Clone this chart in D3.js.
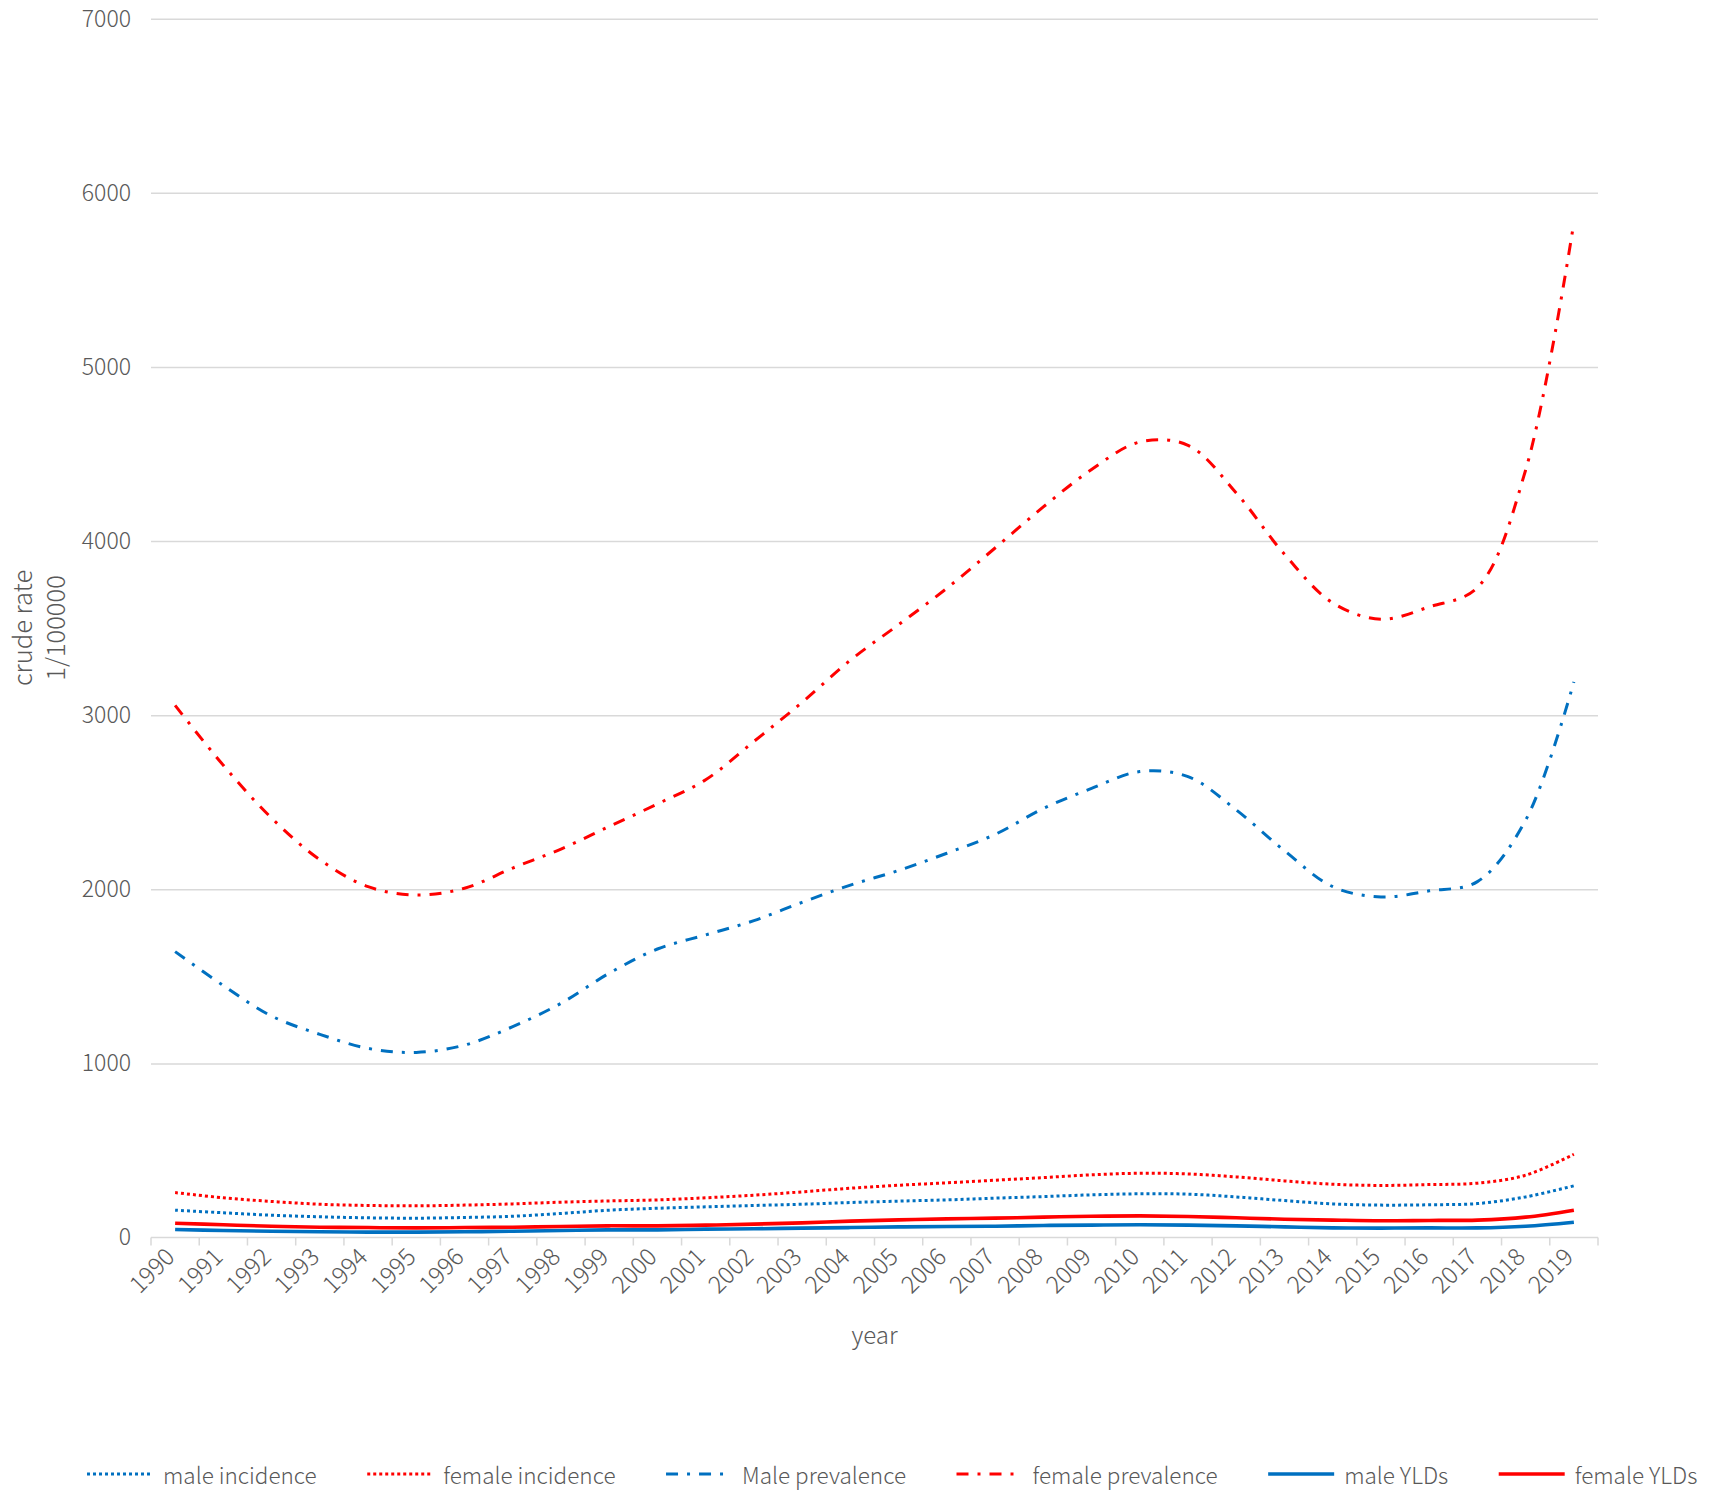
<!DOCTYPE html>
<html>
<head>
<meta charset="utf-8">
<script src="https://cdn.jsdelivr.net/npm/d3@7"></script>
<style>
  html, body { margin: 0; padding: 0; background: #fff; }
  svg text { font-family: "Noto Sans CJK SC", "Noto Sans", sans-serif; font-weight: 300; fill: #595959; }
</style>
</head>
<body>
<svg id="chart" width="1713" height="1493"></svg>
<script>
const years = ["1990","1991","1992","1993","1994","1995","1996","1997","1998","1999",
  "2000","2001","2002","2003","2004","2005","2006","2007","2008","2009",
  "2010","2011","2012","2013","2014","2015","2016","2017","2018","2019"];

const maleIncidence = [157,142,128,119,113,111,115,122,138,157,168,176,184,191,201,209,216,226,235,245,251,249,233,212,193,186,188,195,233,297];
const femaleIncidence = [258,228,207,191,184,182,186,193,203,210,216,228,243,262,283,300,314,329,344,360,369,365,348,325,306,299,304,312,358,478];
const malePrevalence = [1642,1447,1272,1167,1086,1063,1105,1211,1345,1518,1657,1738,1820,1925,2024,2108,2207,2315,2464,2579,2676,2647,2456,2221,2015,1956,1991,2044,2397,3191];
const femalePrevalence = [3056,2712,2409,2170,2015,1967,2006,2122,2231,2361,2490,2629,2849,3074,3316,3520,3729,3960,4196,4411,4569,4550,4276,3924,3645,3551,3622,3733,4408,5830];
const maleYLDs = [46,40,36,33,31,31,33,36,40,44,44,48,50,54,57,61,63,65,69,71,73,71,67,61,55,54,55,55,65,88];
const femaleYLDs = [82,73,65,59,57,55,57,59,63,67,67,71,77,84,94,101,107,111,117,122,124,121,113,105,100,96,98,100,117,157];

const yTicks = [0,1000,2000,3000,4000,5000,6000,7000];
const seriesNames = ["male incidence","female incidence","Male prevalence","female prevalence","male YLDs","female YLDs"];
const yTitle = ["crude rate","1/100000"];
const xTitle = "year";

const BLUE = "#0070C0", RED = "#FF0000";
const styles = [
  {color: BLUE, width: 3, dash: "3 3"},
  {color: RED, width: 3, dash: "3 3"},
  {color: BLUE, width: 3, dash: "12 9 3 9"},
  {color: RED, width: 3, dash: "12 9 3 9"},
  {color: BLUE, width: 3.6, dash: null},
  {color: RED, width: 3.6, dash: null}
];
const seriesValues = [maleIncidence, femaleIncidence, malePrevalence, femalePrevalence, maleYLDs, femaleYLDs];

const svg = d3.select("#chart");
const L = 151, R = 1598, T = 18.7, B = 1237.5;
const FS = 23;

const x = d3.scaleBand().domain(years).range([L, R]).padding(0);
const y = d3.scaleLinear().domain([0, 7000]).range([B, T]);
const grid = "#d9d9d9";

// gridlines + y labels
const yAxis = svg.append("g").attr("transform", `translate(${L},0)`)
  .call(d3.axisLeft(y).tickValues(yTicks).tickSize(-(R - L)).tickPadding(20).tickFormat(d3.format("d")));
yAxis.select(".domain").remove();
yAxis.selectAll(".tick line").attr("stroke", grid).attr("stroke-width", 1.5)
  .filter(d => d === 0).remove();
yAxis.selectAll(".tick text").attr("font-size", FS).attr("fill", "#595959");

// x axis line + ticks at category boundaries
const xAxisG = svg.append("g");
xAxisG.append("line").attr("x1", L).attr("x2", R).attr("y1", B).attr("y2", B)
  .attr("stroke", grid).attr("stroke-width", 1.5);
const bounds = years.map(d => x(d)).concat([x(years[years.length - 1]) + x.bandwidth()]);
xAxisG.selectAll("line.tk").data(bounds).join("line").attr("class", "tk")
  .attr("x1", d => d).attr("x2", d => d).attr("y1", B).attr("y2", B + 8)
  .attr("stroke", grid).attr("stroke-width", 1.5);

// x labels rotated
xAxisG.selectAll("text.xl").data(years).join("text").attr("class", "xl")
  .attr("transform", d => `translate(${x(d) + x.bandwidth() / 2 - 5},${B + 15}) rotate(-45)`)
  .attr("text-anchor", "end").attr("dy", "0.35em")
  .attr("font-size", 24).text(d => d);

// titles
svg.append("text").attr("x", (L + R) / 2).attr("y", 1333).attr("text-anchor", "middle")
  .attr("dominant-baseline", "central").attr("font-size", 24).text(xTitle);
yTitle.forEach((t, i) => {
  svg.append("text").attr("transform", `translate(${20 + i * 33},628) rotate(-90)`)
    .attr("text-anchor", "middle").attr("dominant-baseline", "central")
    .attr("font-size", 25.5).text(t);
});

// lines
const line = d3.line()
  .x((d, i) => x(years[i]) + x.bandwidth() / 2)
  .y(d => y(d))
  .curve(d3.curveCatmullRom.alpha(0.5));

seriesValues.forEach((vals, k) => {
  const s = styles[k];
  svg.append("path").datum(vals).attr("d", line)
    .attr("fill", "none").attr("stroke", s.color).attr("stroke-width", s.width)
    .attr("stroke-dasharray", s.dash).attr("stroke-linejoin", "round");
});

// legend
const LY = 1474;
let cx = 87;
seriesNames.forEach((name, k) => {
  const s = styles[k];
  const g = svg.append("g");
  g.append("line").attr("x1", cx).attr("x2", cx + 66).attr("y1", LY).attr("y2", LY)
    .attr("stroke", s.color).attr("stroke-width", s.width).attr("stroke-dasharray", s.dash);
  const t = g.append("text").attr("x", cx + 76).attr("y", LY).attr("dominant-baseline", "central")
    .attr("font-size", 22.5).text(name);
  const w = t.node().getComputedTextLength();
  cx = cx + 76 + w + 50.5;
});
</script>
</body>
</html>
